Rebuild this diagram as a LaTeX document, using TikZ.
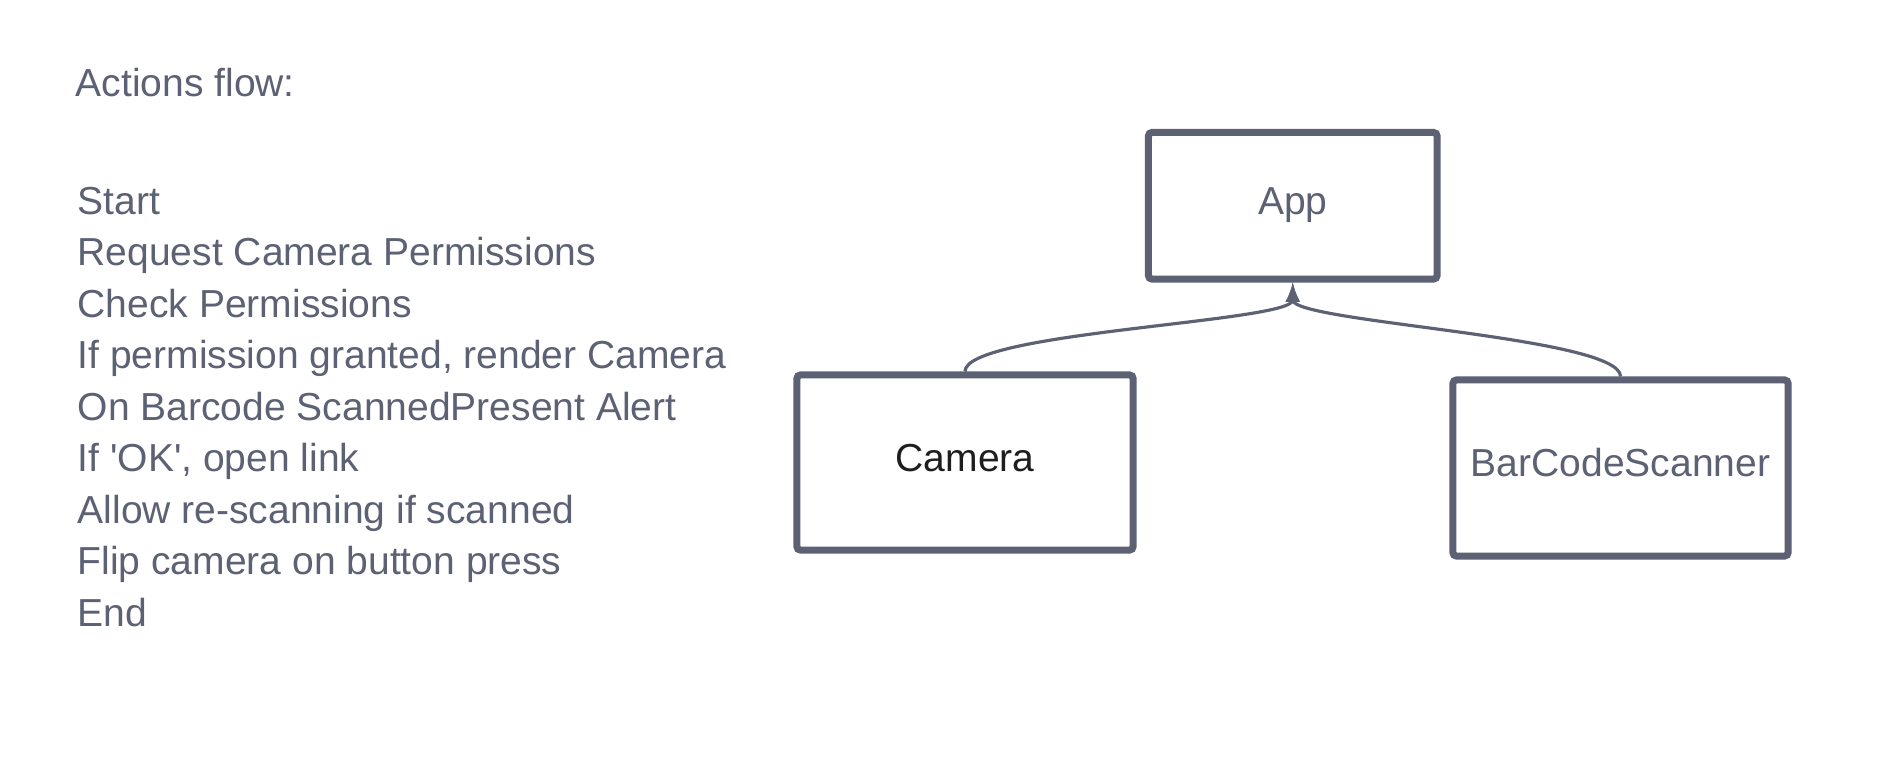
\documentclass[tikz,border=0pt]{standalone}
\usepackage{fontspec}
\setmainfont{Liberation Sans}
\usetikzlibrary{arrows}
\definecolor{ink}{HTML}{5C6174}
\definecolor{dark}{HTML}{1E1E1E}
\tikzstyle{flow}=[x=0.01cm, y=-0.01cm, font=\fontsize{11.1}{13}\selectfont, text=ink]
\tikzstyle{title}=[inner sep=0pt, anchor=base west]
\tikzstyle{item}=[inner sep=0pt, anchor=base west]
\tikzstyle{comp}=[rectangle, draw=ink, line width=2pt, rounded corners=1pt, inner sep=0pt, fill=white, text height=0.75em, text depth=0.25em]
\tikzstyle{edge}=[draw=ink, line width=0.9pt, -latex]
\newcommand{\itemX}{77}
\newcommand{\itemY}{214}
\newcommand{\itemDY}{51.5}

\begin{document}
\begin{tikzpicture}[flow]
	\useasboundingbox (0,0) rectangle (1894,756);
	\node[title] (head) at (75,96) {Actions flow:};

	\node[item] (l1) at (\itemX,\itemY) {Start};
	\node[item] (l2) at (\itemX,\itemY+\itemDY) {Request Camera Permissions};
	\node[item] (l3) at (\itemX,\itemY+2*\itemDY) {Check Permissions};
	\node[item] (l4) at (\itemX,\itemY+3*\itemDY) {If permission granted, render Camera};
	\node[item] (l5) at (\itemX,\itemY+4*\itemDY) {On Barcode ScannedPresent Alert};
	\node[item] (l6) at (\itemX,\itemY+5*\itemDY) {If \textquotesingle OK\textquotesingle, open link};
	\node[item] (l7) at (\itemX,\itemY+6*\itemDY) {Allow re-scanning if scanned};
	\node[item] (l8) at (\itemX,\itemY+7*\itemDY) {Flip camera on button press};
	\node[item] (l9) at (\itemX,\itemY+8*\itemDY) {End};
	%%
	\draw (1292.75,205.75) node[comp, minimum width=2.885cm, minimum height=1.465cm] (app) {App};
	\draw (965,462.5) node[comp, minimum width=3.36cm, minimum height=1.75cm, text=dark] (camera) {Camera};
	\draw (1620.5,468) node[comp, minimum width=3.35cm, minimum height=1.76cm] (scanner) {BarCodeScanner};
	%%
	\draw[edge] (camera.north) to [out=90, in=-90, looseness=0.3] (app.south);
	\draw[edge] (scanner.north) to [out=90, in=-90, looseness=0.3] (app.south);
\end{tikzpicture}
\end{document}
